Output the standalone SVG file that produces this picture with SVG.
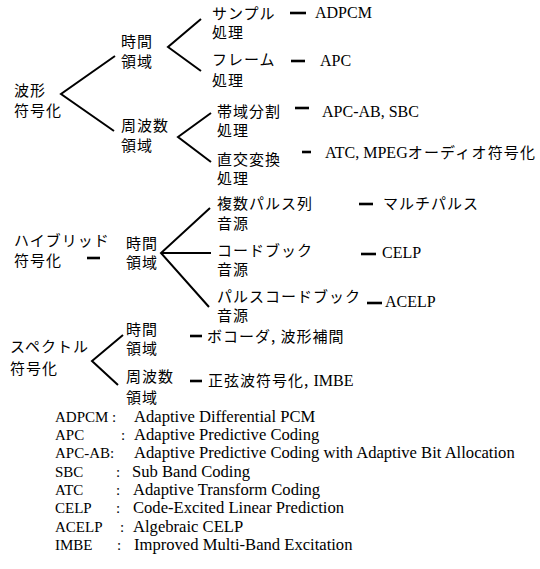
<svg xmlns="http://www.w3.org/2000/svg" width="540" height="569" viewBox="0 0 540 569">
<style>
.g{font-family:"Noto Sans CJK JP","Noto Sans",sans-serif;font-size:15px;letter-spacing:1px;fill:#000}
.r{font-family:"Liberation Serif","Noto Sans CJK JP",serif;font-size:16px;fill:#000}
.j{font-family:"Noto Sans CJK JP",sans-serif;font-size:15px;letter-spacing:1.2px}
.l{font-family:"Liberation Serif",serif;font-size:16px;letter-spacing:0;fill:#000}
.k{font-family:"Liberation Serif",serif;font-size:15px;fill:#000}
.t{font-family:"Liberation Serif",serif;font-size:16.6px;fill:#000}
.e{stroke:#000;stroke-width:2;fill:none;stroke-linecap:butt}
.d{stroke:#000;stroke-width:2.6;fill:none}
</style>
<rect width="540" height="569" fill="#fff"/>
<g id="connectors">
<polyline class="e" points="115,56 61,94 114,131"/>
<polyline class="e" points="201,19 168,47 201,71"/>
<polyline class="e" points="211,113 178,137 211,162"/>
<polyline class="e" points="210,208 161,253 209,307"/>
<line class="e" x1="161" y1="253" x2="211" y2="253"/>
<polyline class="e" points="123,335 92,361 118,385"/>
<line class="d" x1="290" y1="13" x2="306" y2="13"/>
<line class="d" x1="291" y1="61" x2="305" y2="61"/>
<line class="d" x1="295" y1="108" x2="309" y2="108"/>
<line class="d" x1="302" y1="152" x2="311" y2="152"/>
<line class="d" x1="87" y1="258" x2="100" y2="258"/>
<line class="d" x1="359" y1="204" x2="373" y2="204"/>
<line class="d" x1="361" y1="254" x2="376" y2="254"/>
<line class="d" x1="367" y1="303" x2="382" y2="303"/>
<line class="d" x1="190" y1="336" x2="202" y2="336"/>
<line class="d" x1="190" y1="381" x2="202" y2="381"/>
</g>
<g id="waveform"><text class="g" x="14" y="96">波形</text><text class="g" x="14" y="116">符号化</text></g>
<g id="wf-time"><text class="g" x="121" y="47">時間</text><text class="g" x="121" y="67">領域</text></g>
<g id="sample"><text class="g" x="212" y="19">サンプル</text><text class="g" x="212" y="38">処理</text></g>
<g id="frame"><text class="g" x="212" y="65">フレーム</text><text class="g" x="212" y="86">処理</text></g>
<g id="wf-freq"><text class="g" x="121" y="131">周波数</text><text class="g" x="121" y="151">領域</text></g>
<g id="band"><text class="g" x="217" y="117">帯域分割</text><text class="g" x="217" y="136">処理</text></g>
<g id="ortho"><text class="g" x="217" y="165">直交変換</text><text class="g" x="217" y="184">処理</text></g>
<g id="adpcm"><text class="r" x="315" y="18">ADPCM</text></g>
<g id="apc"><text class="r" x="320" y="66">APC</text></g>
<g id="apcab"><text class="r" x="322" y="117">APC-AB, SBC</text></g>
<g id="atc"><text class="r" x="325" y="158">ATC, MPEG<tspan class="j">オーディオ符号化</tspan></text></g>
<g id="hybrid"><text class="g" x="14" y="246">ハイブリッド</text><text class="g" x="14" y="266">符号化</text></g>
<g id="hy-time"><text class="g" x="126" y="249">時間</text><text class="g" x="126" y="268">領域</text></g>
<g id="multi"><text class="g" x="217" y="209">複数パルス列</text><text class="g" x="217" y="229">音源</text></g>
<g id="codebook"><text class="g" x="217" y="256">コードブック</text><text class="g" x="217" y="275">音源</text></g>
<g id="pulsecb"><text class="g" x="217" y="302">パルスコードブック</text><text class="g" x="217" y="321">音源</text></g>
<g id="multipulse"><text class="g" x="383" y="209">マルチパルス</text></g>
<g id="celp"><text class="r" x="382" y="258">CELP</text></g>
<g id="acelp"><text class="r" x="385" y="307">ACELP</text></g>
<g id="spectral"><text class="g" x="10" y="352">スペクトル</text><text class="g" x="10" y="374">符号化</text></g>
<g id="sp-time"><text class="g" x="126" y="335">時間</text><text class="g" x="126" y="354">領域</text></g>
<g id="sp-freq"><text class="g" x="126" y="382">周波数</text><text class="g" x="126" y="403">領域</text></g>
<g id="vocoder"><text class="g" x="207" y="342">ボコーダ, 波形補間</text></g>
<g id="sine"><text class="g" x="208" y="386">正弦波符号化, <tspan class="l">IMBE</tspan></text></g>
<g id="legend">
<text class="k" x="55" y="422">ADPCM</text><text class="k" x="112" y="422">:</text><text class="t" x="134" y="422">Adaptive Differential PCM</text>
<text class="k" x="55" y="440">APC</text><text class="k" x="121" y="440">:</text><text class="t" x="134" y="440">Adaptive Predictive Coding</text>
<text class="k" x="55" y="458">APC-AB:</text><text class="t" x="134" y="458">Adaptive Predictive Coding with Adaptive Bit Allocation</text>
<text class="k" x="55" y="477">SBC</text><text class="k" x="116" y="477">:</text><text class="t" x="132" y="477">Sub Band Coding</text>
<text class="k" x="55" y="495">ATC</text><text class="k" x="116" y="495">:</text><text class="t" x="133" y="495">Adaptive Transform Coding</text>
<text class="k" x="55" y="513">CELP</text><text class="k" x="116" y="513">:</text><text class="t" x="133" y="513">Code-Excited Linear Prediction</text>
<text class="k" x="55" y="532">ACELP</text><text class="k" x="120" y="532">:</text><text class="t" x="133" y="532">Algebraic CELP</text>
<text class="k" x="55" y="550">IMBE</text><text class="k" x="117" y="550">:</text><text class="t" x="134" y="550">Improved Multi-Band Excitation</text>
</g>
</svg>
